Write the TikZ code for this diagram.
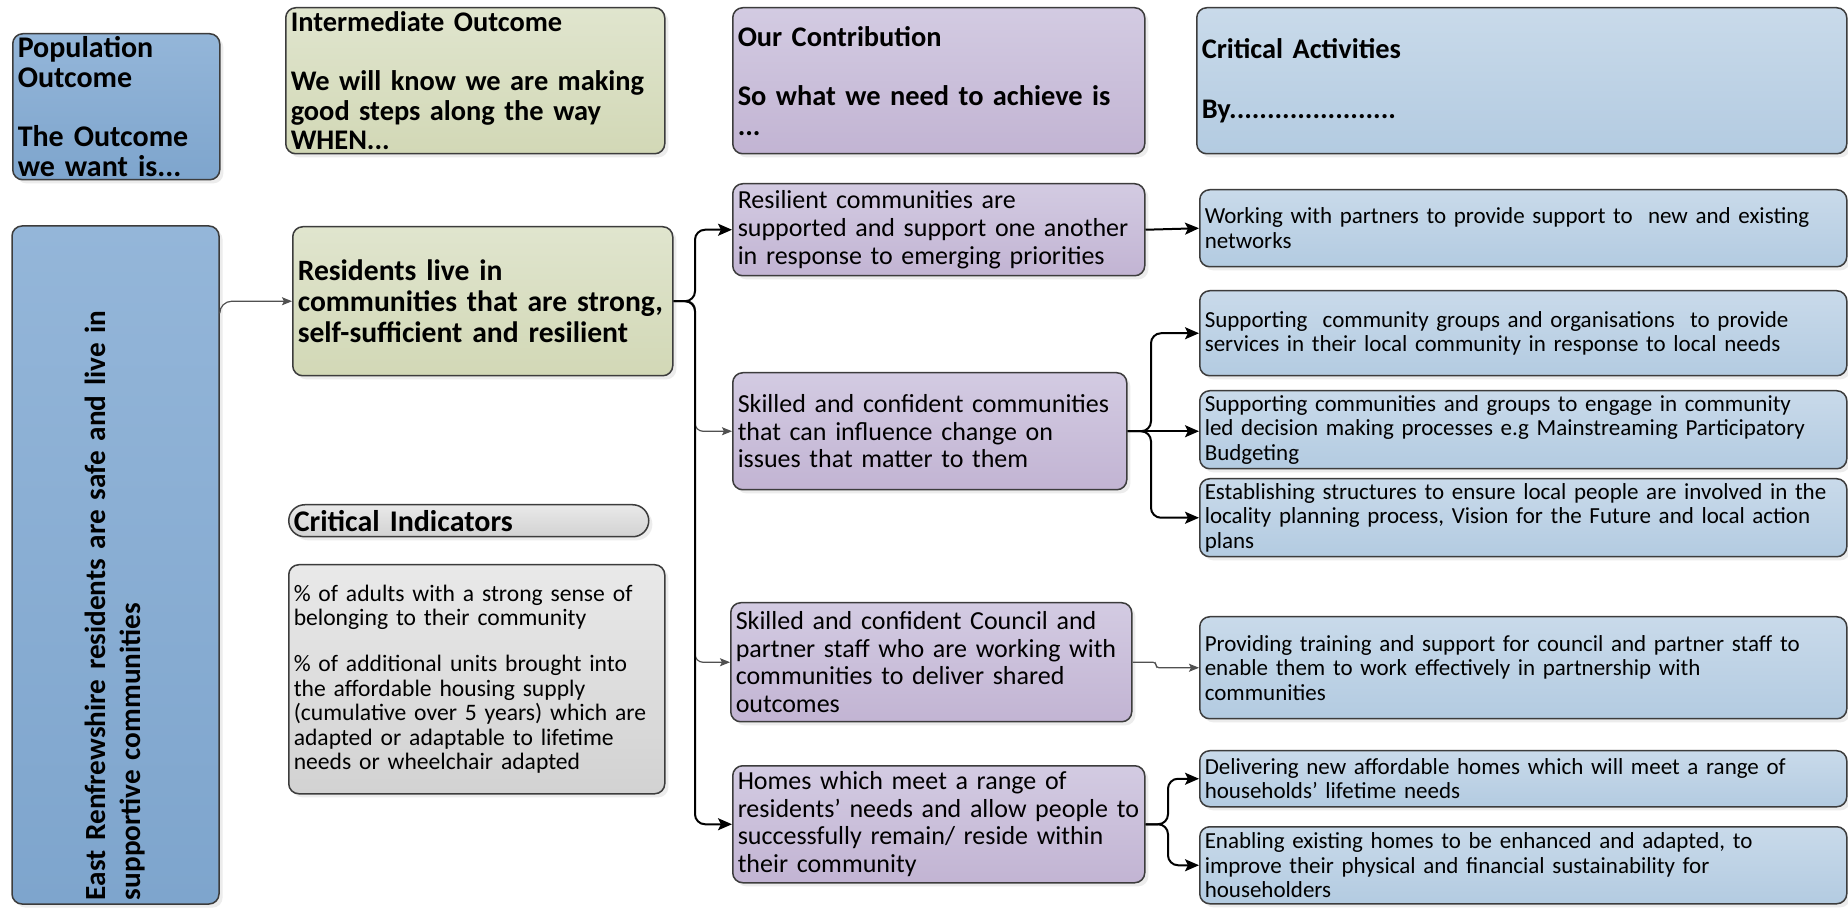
\documentclass[tikz,border=0pt]{standalone}
\usepackage{fontspec}
\setmainfont{Carlito}
\usepackage{tikz}
\usetikzlibrary{arrows.meta}
\usetikzlibrary{shadows}
\usetikzlibrary{calc}
\definecolor{popA}{HTML}{94B6D9}
\definecolor{popB}{HTML}{7EA5CD}
\definecolor{midA}{HTML}{E0E5CE}
\definecolor{midB}{HTML}{D2D8B6}
\definecolor{ourA}{HTML}{D3CBE2}
\definecolor{ourB}{HTML}{C2B4D3}
\definecolor{actA}{HTML}{C9DAEA}
\definecolor{actB}{HTML}{B3CBE1}
\definecolor{indA}{HTML}{E9E9E9}
\definecolor{indB}{HTML}{D2D2D2}
\definecolor{edgegrey}{HTML}{3C3C3C}
\definecolor{linkgrey}{HTML}{505050}
\hyphenpenalty=10000
\exhyphenpenalty=10000
\newcommand{\hdfont}{\fontsize{15}{14.8}\selectfont\bfseries}
\newcommand{\colfont}{\fontsize{14.2}{14.8}\selectfont\bfseries}
\newcommand{\resfont}{\fontsize{14.8}{15.3}\selectfont\bfseries}
\newcommand{\eastfont}{\fontsize{14.6}{17.5}\selectfont\bfseries}
\newcommand{\contfont}{\fontsize{13}{13.8}\selectfont}
\newcommand{\actfont}{\fontsize{11.5}{12.3}\selectfont}
\newcommand{\indfont}{\fontsize{11.8}{12.3}\selectfont}
\tikzset{
    >={Stealth[length=7pt,width=6pt,inset=1.5pt]},
    box/.style={draw=edgegrey, line width=0.75pt, rounded corners=5pt,
        anchor=north west, align=left, inner xsep=2.5pt, inner ysep=0.5pt,
        drop shadow={shadow xshift=1.8pt,shadow yshift=-1.8pt,opacity=0.15}},
    popbox/.style={box, top color=popA, bottom color=popB, font=\hdfont},
    midbox/.style={box, top color=midA, bottom color=midB, font=\colfont},
    ourbox/.style={box, top color=ourA, bottom color=ourB, font=\contfont},
    actbox/.style={box, top color=actA, bottom color=actB, font=\actfont},
    indbox/.style={box, top color=indA, bottom color=indB, font=\indfont},
    flow/.style={draw=black, line width=1pt, rounded corners=5pt, ->},
    link/.style={draw=linkgrey, line width=0.6pt, rounded corners=4pt,
        -{Stealth[length=5pt,width=4pt,inset=1pt]}},
}

\begin{document}
\begin{tikzpicture}[x=0.5pt, y=-0.5pt]
\path[use as bounding box, fill=white] (0,0) rectangle (1848,908);
% headings
\node[popbox, minimum width=103.5pt, minimum height=73pt, text width=98.5pt] (pophd) at (12,33)
    {Population\\Outcome\\[14.8pt]The Outcome\\we want is...};
\node[midbox, minimum width=189.5pt, minimum height=73pt, text width=184.5pt] (midhd) at (285,7)
    {Intermediate Outcome\\[14.8pt]We will know we are making\\good steps along the way\\WHEN...};
\node[ourbox, font=\colfont, minimum width=206pt, minimum height=73pt, text width=201pt] (ourhd) at (732,7)
    {Our Contribution\\[14.8pt]So what we need to achieve is\\...};
\node[actbox, font=\colfont, minimum width=325pt, minimum height=73pt, text width=320pt] (acthd) at (1196,7)
    {Critical Activities\\[14.8pt]By......................};
% population outcome
\node[popbox, font=\eastfont, anchor=center, rotate=90, minimum width=339pt, minimum height=103.5pt,
    text width=335pt, inner xsep=2pt] (east) at (115.5,565)
    {East Renfrewshire residents are safe and live in\\supportive communities};
% intermediate outcome and indicators
\node[midbox, font=\resfont, minimum width=190pt, minimum height=74.5pt, text width=185pt] (res) at (292,226)
    {Residents live in\\communities that are strong,\\self-sufficient and resilient};
\node[indbox, font=\hdfont, rounded corners=8pt, minimum width=180pt, minimum height=16pt,
    text width=175pt, inner ysep=0pt] (indhd) at (288,504) {Critical Indicators};
\node[indbox, minimum width=188pt, minimum height=114.5pt, text width=183pt] (ind) at (288,564)
    {\% of adults with a strong sense of\\belonging to their community\\[10.5pt]\% of additional units brought into\\the affordable housing supply\\(cumulative over 5 years) which are\\adapted or adaptable to lifetime\\needs or wheelchair adapted};
% contribution
\node[ourbox, minimum width=206pt, minimum height=46pt, text width=201pt] (c1) at (732,183)
    {Resilient communities are\\supported and support one another\\in response to emerging priorities};
\node[ourbox, minimum width=197pt, minimum height=58.5pt, text width=192pt] (c2) at (732,372)
    {Skilled and confident communities\\that can influence change on\\issues that matter to them};
\node[ourbox, minimum width=200.5pt, minimum height=59.5pt, text width=195.5pt] (c3) at (730,602)
    {Skilled and confident Council and\\partner staff who are working with\\communities to deliver shared\\outcomes};
\node[ourbox, minimum width=206pt, minimum height=58.5pt, text width=201pt] (c4) at (732,765)
    {Homes which meet a range of\\residents' needs and allow people to\\successfully remain/ reside within\\their community};
% activities
\node[actbox, minimum width=323.5pt, minimum height=38.5pt, text width=318.5pt] (a1) at (1199,189)
    {Working with partners to provide support to\ \ new and existing\\networks};
\node[actbox, minimum width=323.5pt, minimum height=42.5pt, text width=318.5pt] (a2) at (1199,290)
    {Supporting\ \ community groups and organisations\ \ to provide\\services in their local community in response to local needs};
\node[actbox, minimum width=323.5pt, minimum height=39pt, text width=318.5pt] (a3) at (1199,390)
    {Supporting communities and groups to engage in community\\led decision making processes e.g Mainstreaming Participatory\\Budgeting};
\node[actbox, minimum width=323.5pt, minimum height=39pt, text width=318.5pt] (a4) at (1199,478)
    {Establishing structures to ensure local people are involved in the\\locality planning process, Vision for the Future and local action\\plans};
\node[actbox, minimum width=323.5pt, minimum height=51pt, text width=318.5pt] (a5) at (1199,616)
    {Providing training and support for council and partner staff to\\enable them to work effectively in partnership with\\communities};
\node[actbox, minimum width=323.5pt, minimum height=28pt, text width=318.5pt] (a6) at (1199,750)
    {Delivering new affordable homes which will meet a range of\\households' lifetime needs};
\node[actbox, minimum width=323.5pt, minimum height=38.5pt, text width=318.5pt] (a7) at (1199,826)
    {Enabling existing homes to be enhanced and adapted, to\\improve their physical and financial sustainability for\\householders};
% connectors
\coordinate (rj) at (695,300);
\coordinate (j2) at (1151,431);
\coordinate (j3) at (1156,662);
\coordinate (j4) at (1168,824);
\draw[link, rounded corners=6pt] ($(east.south east)+(0,87)$) |- (res.west);
\draw[link] (res.east) -- (res.east -| rj) |- (c2.west);
\draw[link] (res.east) -- (res.east -| rj) |- (c3.west);
\draw[flow] (res.east) -- (res.east -| rj) |- (c1.west);
\draw[flow] (res.east) -- (res.east -| rj) |- (c4.west);
\draw[flow] (c1.east) -- (a1.west);
\foreach \t in {a2,a4}
    \draw[flow] (c2.east) -- (c2.east -| j2) |- (\t.west);
\draw[flow] (c2.east) -- (c2.east -| a3.west);
\draw[link, rounded corners=1.5pt] (c3.east) -- (c3.east -| j3) |- (a5.west);
\foreach \t in {a6,a7}
    \draw[flow] (c4.east) -- (c4.east -| j4) |- (\t.west);
\end{tikzpicture}
\end{document}
